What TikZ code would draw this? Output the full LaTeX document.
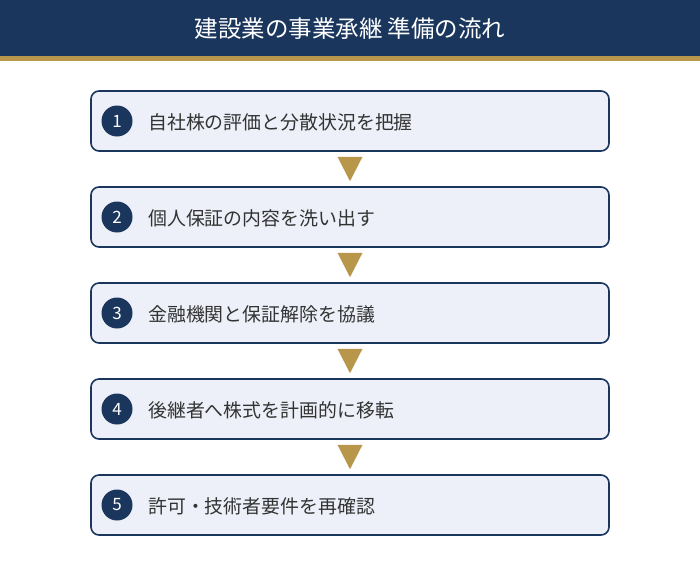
\documentclass[tikz,border=0pt]{standalone}
\usepackage{fontspec}
\setmainfont{Noto Sans CJK JP}
\usetikzlibrary{calc}
\definecolor{navy}{HTML}{1B365D}
\definecolor{gold}{HTML}{B8964A}
\definecolor{boxfill}{HTML}{EDF0F8}
\definecolor{textgray}{HTML}{333333}
\tikzset{
  stepbox/.style={draw=navy,line width=1.6pt,fill=boxfill,rounded corners=8pt,
    minimum width=518pt,minimum height=60pt,inner sep=0pt},
  stepnum/.style={circle,fill=navy,text=white,minimum size=31pt,inner sep=0pt,
    font=\fontsize{17}{17}\selectfont},
  steptext/.style={anchor=west,text=textgray,inner sep=0pt,
    font=\fontsize{18.9}{18.9}\selectfont},
  downmark/.style={fill=gold}
}
\begin{document}
\begin{tikzpicture}[x=1pt,y=-1pt]
			\useasboundingbox (0,0) rectangle (700,566);
			\fill[white] (0,0) rectangle (700,566);
			% title bar
			\fill[navy] (0,0) rectangle (700,56);
			\fill[gold] (0,56) rectangle (700,61);
			\node[text=white,font=\fontsize{23.5}{23.5}\selectfont] (title) at (350,29) {建設業の事業承継 準備の流れ};
			% steps
			\node[stepbox] (s1) at (350,121) {};
			\node[stepbox] (s2) at (350,217) {};
			\node[stepbox] (s3) at (350,313) {};
			\node[stepbox] (s4) at (350,409) {};
			\node[stepbox] (s5) at (350,505) {};
			\node[stepnum] (n1) at (117,121) {1};
			\node[stepnum] (n2) at (117,217) {2};
			\node[stepnum] (n3) at (117,313) {3};
			\node[stepnum] (n4) at (117,409) {4};
			\node[stepnum] (n5) at (117,505) {5};
			\node[steptext] (t1) at (148,122) {自社株の評価と分散状況を把握};
			\node[steptext] (t2) at (148,218) {個人保証の内容を洗い出す};
			\node[steptext] (t3) at (148,314) {金融機関と保証解除を協議};
			\node[steptext] (t4) at (148,410) {後継者へ株式を計画的に移転};
			\node[steptext] (t5) at (148,506) {許可・技術者要件を再確認};
			% arrows
			\fill[downmark] ($(s1.south)+(-12.5,5)$) -- ($(s1.south)+(12.5,5)$) -- ($(s2.north)+(0,-5)$) -- cycle;
			\fill[downmark] ($(s2.south)+(-12.5,5)$) -- ($(s2.south)+(12.5,5)$) -- ($(s3.north)+(0,-5)$) -- cycle;
			\fill[downmark] ($(s3.south)+(-12.5,5)$) -- ($(s3.south)+(12.5,5)$) -- ($(s4.north)+(0,-5)$) -- cycle;
			\fill[downmark] ($(s4.south)+(-12.5,5)$) -- ($(s4.south)+(12.5,5)$) -- ($(s5.north)+(0,-5)$) -- cycle;
\end{tikzpicture}
\end{document}
